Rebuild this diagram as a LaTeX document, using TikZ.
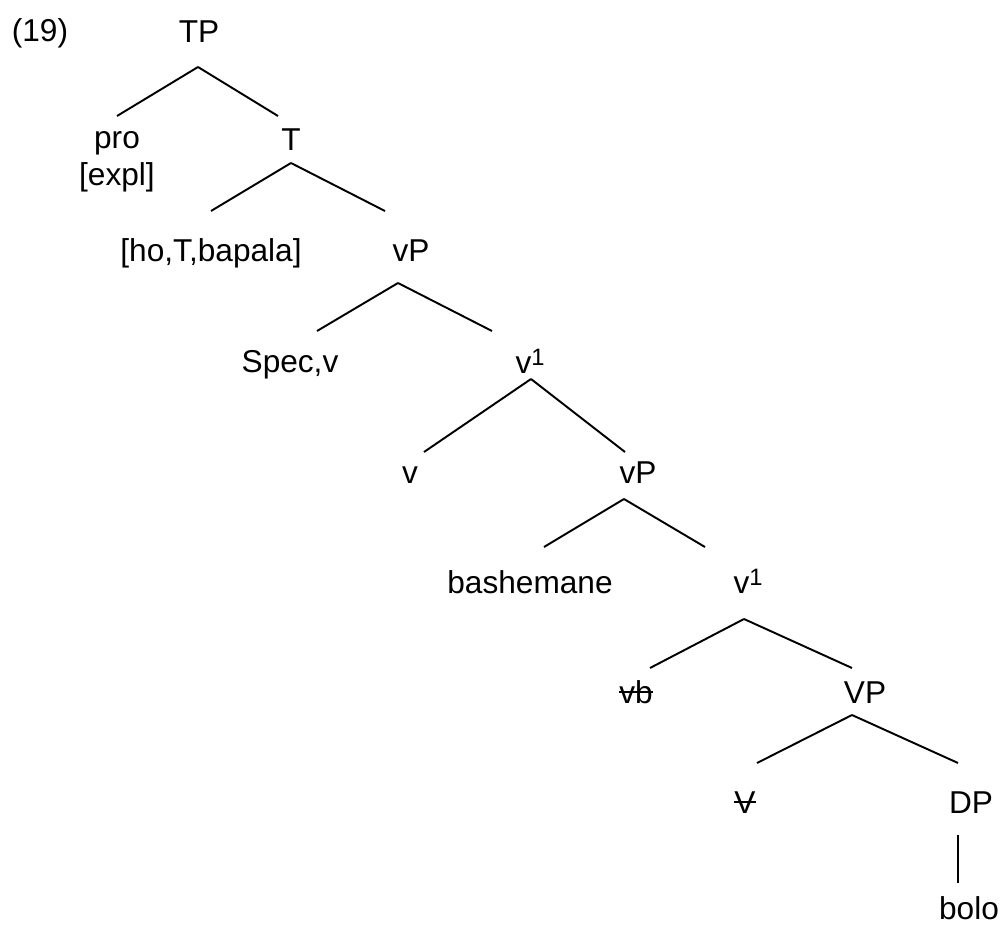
\documentclass[tikz,border=0pt]{standalone}
\usepackage{fontspec}
\setmainfont{Liberation Sans}
\newcommand\vsup{\raisebox{4.5pt}{\fontsize{13.5}{14}\selectfont 1}}
\newcommand\strike[1]{\setbox0\hbox{#1}\rlap{\rule[5.6pt]{\wd0}{1.1pt}}\box0}
\begin{document}
\begin{tikzpicture}[x=0.02cm,y=-0.02cm,line width=1.1pt,
    every node/.style={anchor=base,inner sep=0pt,align=center,
      font=\fontsize{18}{20.5}\selectfont}]
    \useasboundingbox (0,0) rectangle (1001,924);
    \foreach \name/\pos/\txt in
{{ex/(40,41)/(19)},{TP/(199,42)/TP},{pro/(117,185)/pro\\{[expl]}},{T/(291,150)/T},
{ho/(211,261)/[ho,T,bapala]},{vP/(411,261)/vP},{spec/(290,372)/Spec,v},
{vbar/(530,373)/v\vsup},{v/(410,483)/v},{vPP/(638,483)/vP},
{bash/(530,593)/bashemane},{vbbar/(748,593)/v\vsup},{vb/(636,703)/\strike{vb}},
{VP/(865,703)/VP},{V/(745,813)/\strike{V}},{DP/(971,813)/DP},{bolo/(969,919)/bolo}}
      \node (\name) at \pos {\txt};
    % branch ends
    \coordinate (TPb) at (198,67);   \coordinate (proa) at (117,116);
    \coordinate (Ta) at (278,116);   \coordinate (Tb) at (291,163);
    \coordinate (hoa) at (211,211);  \coordinate (vPa) at (385,211);
    \coordinate (vPb) at (398,283);  \coordinate (speca) at (317,331);
    \coordinate (vbara) at (492,331); \coordinate (vbarb) at (531,379);
    \coordinate (va) at (424,452);   \coordinate (vPPa) at (625,452);
    \coordinate (vPPb) at (624,499); \coordinate (basha) at (544,547);
    \coordinate (vbbara) at (705,547); \coordinate (vbbarb) at (744,619);
    \coordinate (vba) at (650,668);  \coordinate (VPa) at (852,668);
    \coordinate (VPb) at (852,715);  \coordinate (Va) at (757,763);
    \coordinate (DPa) at (958,763);  \coordinate (DPb) at (958,835);
    \coordinate (boloa) at (958,883);
    \foreach \a/\b in {TPb/proa,TPb/Ta,Tb/hoa,Tb/vPa,vPb/speca,vPb/vbara,vbarb/va,
vbarb/vPPa,vPPb/basha,vPPb/vbbara,vbbarb/vba,vbbarb/VPa,VPb/Va,VPb/DPa,DPb/boloa}
      {\draw (\a) -- (\b);}
  \end{tikzpicture}
\end{document}
